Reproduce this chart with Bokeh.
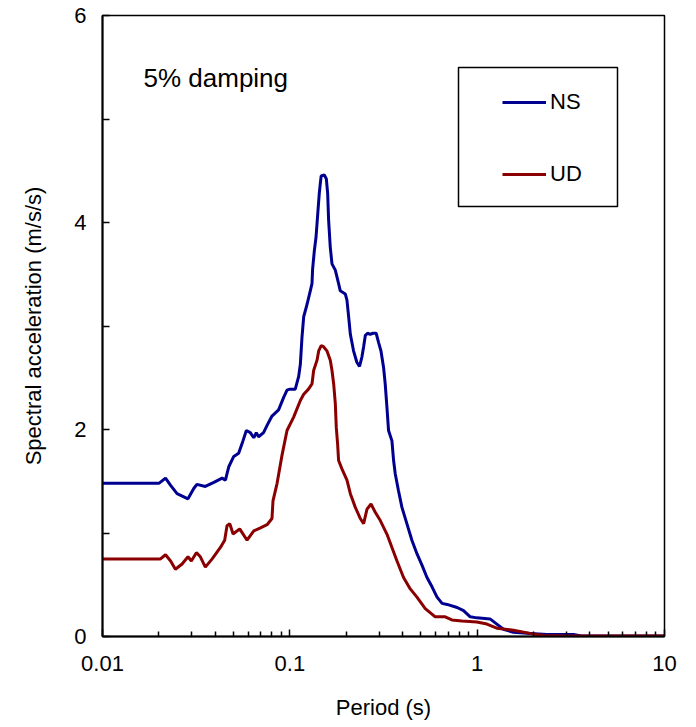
from bokeh.plotting import figure
from bokeh.models import (Range1d, FixedTicker, CustomJSTickFormatter, Legend,
                          LegendItem, BoxAnnotation, Label)
from bokeh.embed import file_html
from bokeh.resources import INLINE

# Response spectra (5% damping), period in seconds, Sa in m/s/s
ns_period = [0.010, 0.0200, 0.0217, 0.0231, 0.0250, 0.0286, 0.0307, 0.0319, 0.0354,
             0.0393, 0.0435, 0.0453, 0.0460, 0.0472, 0.0502, 0.0533, 0.0562, 0.0586,
             0.0615, 0.0642, 0.0662, 0.0681, 0.0724, 0.0756, 0.0803, 0.0871, 0.0927,
             0.0966, 0.1000, 0.1069, 0.1114, 0.1138, 0.1161, 0.1186, 0.1236, 0.1286,
             0.1313, 0.1323, 0.1352, 0.1380, 0.1414, 0.1436, 0.1453, 0.1470, 0.1528,
             0.1567, 0.1592, 0.1611, 0.1644, 0.1679, 0.1749, 0.1821, 0.1859, 0.1977,
             0.2018, 0.2060, 0.2104, 0.2188, 0.2279, 0.2355, 0.2425, 0.2477, 0.2530,
             0.2600, 0.2686, 0.2780, 0.2890, 0.2978, 0.3064, 0.3165, 0.3229, 0.3297,
             0.3365, 0.3508, 0.3580, 0.3655, 0.3800, 0.3964, 0.4214, 0.4483, 0.4770,
             0.5074, 0.5397, 0.5741, 0.6107, 0.6496, 0.6910, 0.7818, 0.8459, 0.9183,
             0.9960, 1.172, 1.273, 1.381, 1.562, 1.919, 2.355, 3.266, 3.600, 10.0]
ns_sa = [1.48, 1.48, 1.53, 1.46, 1.38, 1.33, 1.43, 1.47, 1.45,
         1.49, 1.53, 1.51, 1.56, 1.64, 1.74, 1.77, 1.89, 1.99,
         1.97, 1.92, 1.97, 1.93, 1.97, 2.04, 2.13, 2.19, 2.31,
         2.38, 2.39, 2.39, 2.51, 2.63, 2.89, 3.09, 3.21, 3.34,
         3.41, 3.55, 3.73, 3.86, 4.12, 4.28, 4.37, 4.45, 4.46,
         4.42, 4.28, 4.02, 3.76, 3.60, 3.54, 3.41, 3.34, 3.31,
         3.25, 3.09, 2.92, 2.76, 2.65, 2.61, 2.70, 2.80, 2.91,
         2.93, 2.92, 2.93, 2.93, 2.84, 2.76, 2.60, 2.44, 2.22,
         1.99, 1.89, 1.70, 1.57, 1.41, 1.25, 1.09, 0.93, 0.80,
         0.69, 0.57, 0.48, 0.38, 0.32, 0.31, 0.28, 0.25, 0.19,
         0.18, 0.17, 0.12, 0.07, 0.04, 0.03, 0.02, 0.02, 0.005, 0.005]

ud_period = [0.010, 0.0204, 0.0217, 0.0231, 0.0245, 0.0266, 0.0286, 0.0298, 0.0317,
             0.0333, 0.0354, 0.0385, 0.0426, 0.0449, 0.0462, 0.0478, 0.0498, 0.0540,
             0.0591, 0.0642, 0.0697, 0.0756, 0.0803, 0.0813, 0.0855, 0.0908, 0.0966,
             0.1048, 0.1138, 0.1186, 0.1258, 0.1313, 0.1340, 0.1397, 0.1426, 0.1470,
             0.1513, 0.1577, 0.1644, 0.1679, 0.1714, 0.1749, 0.1770, 0.1799, 0.1821,
             0.1897, 0.2018, 0.2104, 0.2234, 0.2377, 0.2477, 0.2582, 0.2712, 0.2858,
             0.3041, 0.3297, 0.3508, 0.3733, 0.4046, 0.4394, 0.4770, 0.5284, 0.5973,
             0.6751, 0.7326, 0.8287, 0.9960, 1.127, 1.273, 1.562, 1.919, 2.258, 3.0, 10.0]
ud_sa = [0.75, 0.75, 0.79, 0.73, 0.65, 0.70, 0.77, 0.73, 0.81,
         0.77, 0.67, 0.75, 0.86, 0.93, 1.07, 1.09, 0.99, 1.04,
         0.93, 1.02, 1.05, 1.08, 1.14, 1.31, 1.48, 1.75, 1.99,
         2.12, 2.28, 2.34, 2.39, 2.44, 2.57, 2.67, 2.76, 2.81,
         2.80, 2.76, 2.67, 2.57, 2.44, 2.25, 2.02, 1.86, 1.70,
         1.62, 1.51, 1.38, 1.25, 1.14, 1.09, 1.23, 1.28, 1.20,
         1.12, 0.99, 0.86, 0.73, 0.57, 0.46, 0.38, 0.27, 0.19,
         0.19, 0.16, 0.15, 0.14, 0.12, 0.08, 0.06, 0.03, 0.01, 0.005, 0.005]

x_ticks = [0.01, 0.1, 1, 10]
x_minor = [k * 10.0 ** e for e in (-2, -1, 0) for k in range(2, 10)]
y_ticks = [0, 2, 4, 6]
y_minor = [1, 3, 5]

FONT = "Liberation Sans"
NS_COLOR = "#000090"
UD_COLOR = "#8a0000"

p = figure(width=696, height=727, x_axis_type="log",
           x_range=Range1d(0.01, 10), y_range=Range1d(0, 6),
           output_backend="svg", toolbar_location=None,
           min_border_left=102, min_border_right=32,
           min_border_top=15, min_border_bottom=91)

p.background_fill_color = "white"
p.border_fill_color = "white"
p.grid.visible = False
p.outline_line_color = "black"
p.outline_line_width = 1.5
p.outline_line_alpha = 1.0

ns = p.line(ns_period, ns_sa, line_color=NS_COLOR, line_width=3)
ud = p.line(ud_period, ud_sa, line_color=UD_COLOR, line_width=3)

p.xaxis.ticker = FixedTicker(ticks=x_ticks, minor_ticks=x_minor)
p.xaxis.formatter = CustomJSTickFormatter(code="return String(tick);")
p.yaxis.ticker = FixedTicker(ticks=y_ticks, minor_ticks=y_minor)

for ax in (p.xaxis[0], p.yaxis[0]):
    ax.axis_line_width = 2
    ax.axis_line_color = "black"
    ax.major_tick_in = 7
    ax.major_tick_out = 0
    ax.minor_tick_out = 0
    ax.major_tick_line_width = 1.5
    ax.minor_tick_line_width = 1.5
    ax.major_tick_line_color = "black"
    ax.minor_tick_line_color = "black"
    ax.major_label_text_font = FONT
    ax.major_label_text_font_size = "22px"
    ax.major_label_text_color = "black"
    ax.axis_label_text_font = FONT
    ax.axis_label_text_font_size = "22px"
    ax.axis_label_text_font_style = "normal"
    ax.axis_label_text_color = "black"

p.xaxis.minor_tick_in = 5
p.yaxis.minor_tick_in = 7
p.xaxis.major_label_standoff = 19
p.yaxis.major_label_standoff = 16
p.xaxis.axis_label = "Period (s)"
p.yaxis.axis_label = "Spectral acceleration (m/s/s)"
p.xaxis.axis_label_standoff = 21
p.yaxis.axis_label_standoff = 25

# legend frame and entries
box = BoxAnnotation(left=356, right=515, bottom=430, top=569,
                    left_units="screen", right_units="screen",
                    bottom_units="screen", top_units="screen",
                    fill_alpha=0, line_color="black", line_alpha=1.0,
                    line_width=1.5)
p.add_layout(box)

legend = Legend(items=[LegendItem(label="NS", renderers=[ns]),
                       LegendItem(label="UD", renderers=[ud])],
                location=(400, 449), padding=0, margin=0, spacing=46,
                glyph_width=44, glyph_height=20, label_height=20,
                label_standoff=4, border_line_alpha=0,
                background_fill_alpha=0,
                label_text_font=FONT, label_text_font_size="22px",
                label_text_color="black")
p.add_layout(legend)

p.add_layout(Label(x=41, y=559, x_units="screen", y_units="screen",
                   text="5% damping", text_font=FONT, text_font_size="26px",
                   text_color="black", text_baseline="alphabetic"))

open("out.html", "w").write(file_html(p, INLINE))
